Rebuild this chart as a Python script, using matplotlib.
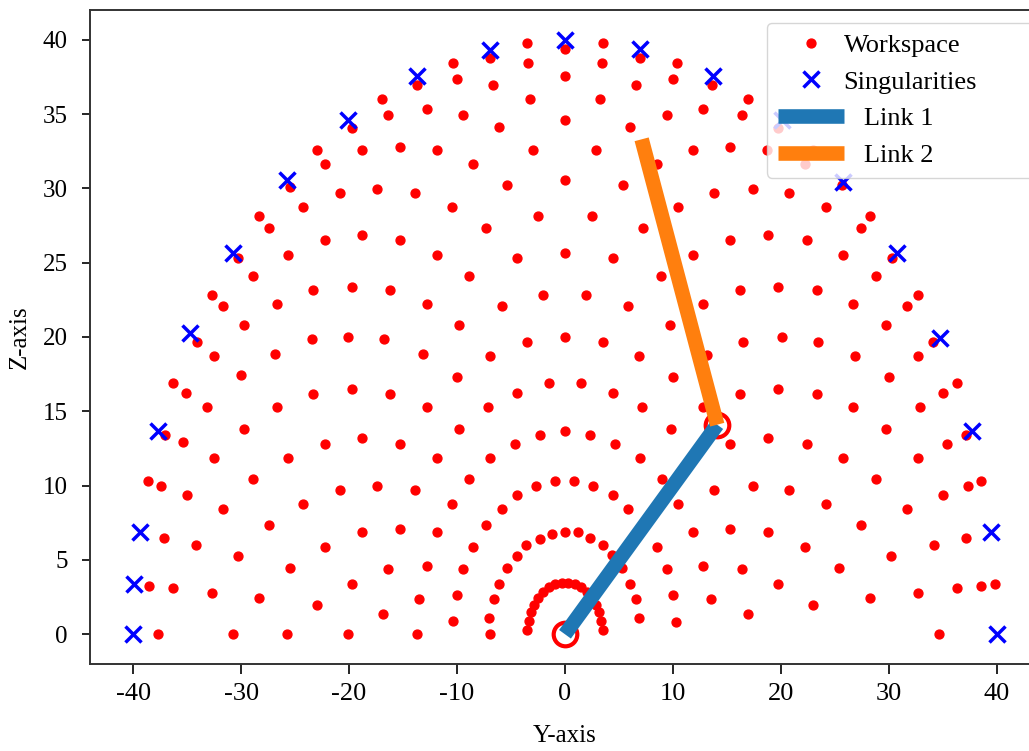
import matplotlib
matplotlib.use('Agg')
import matplotlib.pyplot as plt

plt.rcParams['font.family'] = ['Liberation Serif', 'DejaVu Serif']
plt.rcParams['axes.unicode_minus'] = False

# ---------------- data (Y-axis, Z-axis units) ----------------
# workspace points, upper-left part
ws_ul_y = [-3.55, -6.94, -3.40, -10.34, -10.03, -6.64, -13.73, -3.24, -16.92, -16.36,
           -12.81, -9.42, -6.08, -19.75, -22.99, -18.82, -15.28, -11.88, -2.94, -22.22,
           -8.55, -5.34, -25.46, -20.83, -17.44, -13.89, -24.23, -10.49, -28.31, -27.38,
           -7.31, -2.47, -22.22, -18.82, -15.28, -25.62, -11.88, -30.25, -4.47, -28.86,
           -8.89, -32.71, -31.64, -26.69, -23.31, -19.75, -16.20, -12.81, -5.86, -2.01,
           -29.72, -9.81]
ws_ul_z = [39.78, 38.77, 38.43, 38.43, 37.35, 36.97, 36.97, 36.03, 36.03, 34.95,
           35.33, 34.95, 34.12, 34.09, 32.59, 32.59, 32.81, 32.59, 32.59, 31.63,
           31.63, 30.24, 30.12, 29.72, 29.95, 29.72, 28.77, 28.77, 28.17, 27.32,
           27.32, 28.17, 26.53, 26.87, 26.53, 25.52, 25.52, 25.30, 25.30, 24.13,
           24.13, 22.83, 22.11, 22.22, 23.16, 23.39, 23.16, 22.22, 22.11, 22.83,
           20.81, 20.81]

# workspace points on the vertical centre line (upper part)
ws_uc_y = [0.0, 0.0, 0.0, 0.0, 0.0]
ws_uc_z = [39.37, 37.58, 34.61, 30.57, 25.68]

# workspace points, upper-right part
ws_ur_y = [3.55, 3.40, 6.94, 10.34, 6.57, 10.03, 13.58, 3.24, 16.92, 6.02,
           9.42, 12.81, 16.36, 2.87, 11.88, 15.28, 18.68, 8.49, 22.22, 5.34,
           13.82, 17.44, 20.77, 25.62, 2.47, 10.49, 24.17, 28.24, 7.25, 27.41,
           4.42, 11.88, 15.28, 18.82, 22.38, 25.77, 30.25, 8.89, 28.80, 1.94,
           5.86, 12.81, 16.20, 19.75, 23.31, 26.69, 31.64, 32.71, 9.72, 29.72,
           19.75, 22.99]
ws_ur_z = [39.78, 38.43, 38.77, 38.43, 36.97, 37.35, 36.97, 36.03, 36.03, 34.12,
           34.95, 35.33, 34.95, 32.59, 32.59, 32.81, 32.59, 31.63, 31.63, 30.24,
           29.72, 29.95, 29.72, 30.24, 28.17, 28.77, 28.77, 28.17, 27.32, 27.32,
           25.30, 25.52, 26.53, 26.87, 26.53, 25.52, 25.30, 24.13, 24.13, 22.83,
           22.11, 22.22, 23.16, 23.39, 23.16, 22.22, 22.11, 22.83, 20.81, 20.81,
           34.09, 32.59]

# workspace points, lower-left part
ws_ll_y = [-34.10, -23.45, -20.12, -16.76, -3.55, -32.56, -26.85, -13.18, -6.94, -30.03,
           -9.97, -36.32, -35.09, -23.31, -19.75, -16.20, -4.47, -1.45, -33.12, -26.69,
           -12.81, -7.10, -29.72, -9.81, -37.04, -35.40, -22.22, -18.82, -15.28, -4.63,
           -2.31, -32.56, -25.62, -11.88, -6.94, -38.64, -37.41, -35.03, -28.86, -20.83,
           -17.44, -13.89, -8.89, -4.47, -2.69, -0.93, -31.69, -24.23, -10.49, -5.86,
           -37.19, -34.17, -27.41, -18.82, -15.28, -11.88, -7.31, -8.55, -3.61, -2.31,
           -1.23, -30.25, -22.22, -4.47, -25.46, -16.42, -12.81, -9.42, -5.40, -38.58,
           -36.27, -32.71, -28.31, -19.75, -22.99, -13.52, -10.03, -6.08, -6.57, -16.88,
           -10.34, -7.04, -37.71, -30.77, -25.77, -20.12, -13.68, -6.94]
ws_ll_z = [19.68, 19.85, 19.98, 19.85, 19.68, 18.74, 18.86, 18.86, 18.74, 17.44,
           17.33, 16.88, 16.25, 16.14, 16.48, 16.14, 16.25, 16.88, 15.27, 15.27,
           15.27, 15.27, 13.78, 13.78, 13.40, 12.91, 12.79, 13.18, 12.79, 12.79,
           13.40, 11.83, 11.83, 11.83, 11.83, 10.30, 9.97, 9.36, 10.42, 9.70,
           9.97, 9.70, 10.42, 9.36, 9.97, 10.30, 8.40, 8.75, 8.75, 8.40,
           6.48, 5.99, 7.34, 6.85, 7.07, 6.85, 7.34, 5.88, 5.99, 6.44,
           6.73, 5.27, 5.88, 5.27, 4.46, 4.36, 4.58, 4.36, 4.44, 3.25,
           3.14, 2.78, 2.44, 3.41, 1.95, 2.34, 2.67, 3.37, 2.34, 1.35,
           0.88, 1.12, 0.0, 0.0, 0.0, 0.0, 0.0, 0.0]

# workspace points, lower-right part
ws_lr_y = [0.0, 3.55, 6.88, 16.51, 20.06, 23.45, 34.10, 26.85, 32.71, 1.45,
           4.47, 9.97, 16.20, 19.75, 23.31, 30.03, 35.03, 36.27, 7.10, 12.81,
           26.64, 32.87, 0.0, 2.31, 4.63, 9.79, 15.28, 18.82, 22.38, 29.72,
           35.34, 37.13, 6.94, 25.77, 32.71, 0.83, 2.62, 4.47, 8.95, 13.82,
           17.44, 20.77, 28.80, 35.03, 37.34, 38.58, 5.86, 10.49, 24.17, 31.64,
           0.0, 1.23, 2.31, 3.55, 8.49, 11.88, 15.28, 18.82, 22.22, 27.38,
           34.17, 37.13, 4.32, 5.25, 9.42, 12.81, 16.36, 25.40, 30.19, 6.02,
           6.57, 9.97, 13.49, 19.75, 22.94, 28.24, 32.71, 36.27, 38.58, 39.81,
           6.88, 10.28, 16.92, 34.66, 13.18, 11.88, 7.31]
ws_lr_z = [19.98, 19.68, 18.74, 19.68, 19.98, 19.68, 19.68, 18.74, 18.74, 16.88,
           16.25, 17.33, 16.14, 16.48, 16.14, 17.33, 16.25, 16.88, 15.27, 15.27,
           15.27, 15.27, 13.67, 13.40, 12.79, 13.78, 12.79, 13.18, 12.79, 13.78,
           12.79, 13.40, 11.83, 11.83, 11.83, 10.30, 9.97, 9.36, 10.42, 9.70,
           9.97, 9.70, 10.42, 9.36, 9.97, 10.30, 8.40, 8.75, 8.75, 8.40,
           6.85, 6.85, 6.51, 5.99, 5.88, 6.85, 7.07, 6.85, 5.88, 7.34,
           5.99, 6.48, 5.32, 4.44, 4.36, 4.58, 4.36, 4.46, 5.27, 3.37,
           2.34, 2.67, 2.34, 3.41, 1.95, 2.44, 2.78, 3.14, 3.25, 3.37,
           1.12, 0.83, 1.35, 0.0, 18.82, 11.83, 7.34]

# small inner arc of workspace points around the base
ws_in_y = [3.48, 3.37, 3.16, 2.86, 2.47, 2.00, 1.47, 0.90, 0.30,
           -0.30, -0.90, -1.47, -2.00, -2.47, -2.86, -3.16, -3.37, -3.48]
ws_in_z = [0.30, 0.90, 1.47, 2.00, 2.47, 2.86, 3.16, 3.37, 3.48,
           3.48, 3.37, 3.16, 2.86, 2.47, 2.00, 1.47, 0.90, 0.30]

# singularities
sing_y = [-40.0, -39.88, -39.35, -37.71, -34.72, -30.77, -25.77, -20.12, -13.73, -6.94,
          0.0, 6.94, 13.68, 20.12, 25.77, 30.77, 34.72, 37.66, 39.44, 40.0]
sing_z = [0.0, 3.37, 6.85, 13.67, 20.25, 25.68, 30.57, 34.61, 37.58, 39.33,
          40.0, 39.37, 37.58, 34.61, 30.46, 25.68, 19.91, 13.67, 6.85, 0.0]

# arm configuration
link1_y = [0.0, 14.1]
link1_z = [0.0, 14.1]
link2_y = [14.1, 7.1]
link2_z = [14.1, 33.3]
joint_y = [0.0, 14.1]
joint_z = [0.0, 14.1]

x_ticks = [-40, -30, -20, -10, 0, 10, 20, 30, 40]
y_ticks = [0, 5, 10, 15, 20, 25, 30, 35, 40]

# ---------------- figure ----------------
W, H = 1029, 751
fig = plt.figure(figsize=(W / 100, H / 100), dpi=100)
ax = fig.add_axes([90 / W, 87 / H, 950 / W, 654 / H])

ws_y = ws_ul_y + ws_uc_y + ws_ur_y + ws_ll_y + ws_lr_y + ws_in_y
ws_z = ws_ul_z + ws_uc_z + ws_ur_z + ws_ll_z + ws_lr_z + ws_in_z

ax.plot(ws_y, ws_z, linestyle='none', marker='o', color='red', markersize=6.4,
        label='Workspace', zorder=2)
ax.plot(sing_y, sing_z, linestyle='none', marker='x', color='blue', markersize=11.5,
        markeredgewidth=2.5, label='Singularities', zorder=3)
ax.plot(joint_y, joint_z, linestyle='none', marker='o', markerfacecolor='none',
        markeredgecolor='red', markersize=17, markeredgewidth=3, zorder=3.5)
ax.plot(link1_y, link1_z, color='#1f77b4', linewidth=10.5, solid_capstyle='butt',
        label='   Link 1', zorder=4)
ax.plot(link2_y, link2_z, color='#ff7f0e', linewidth=10.5, solid_capstyle='butt',
        label='   Link 2', zorder=4)

ax.set_xlim(-44, 44)
ax.set_ylim(-2, 42)
ax.set_xticks(x_ticks)
ax.set_yticks(y_ticks)
ax.tick_params(axis='x', labelsize=19, length=7, width=1.2, pad=7)
ax.tick_params(axis='y', labelsize=18, length=6, width=1.2, pad=10)
for sp in ax.spines.values():
    sp.set_color('#333333')
    sp.set_linewidth(1.4)

ax.set_xlabel('Y-axis', fontsize=18, labelpad=14)
ax.set_ylabel('Z-axis', fontsize=18, labelpad=9)

leg = ax.legend(loc='upper left', bbox_to_anchor=(767 / W, 1 - 178 / H, 275 / W, 155 / H),
                bbox_transform=fig.transFigure, mode='expand', borderaxespad=0,
                fontsize=19, handlelength=2.5, handletextpad=0.0, labelspacing=0.5,
                borderpad=0.4, framealpha=0.8)

fig.savefig('out.png', dpi=100)
